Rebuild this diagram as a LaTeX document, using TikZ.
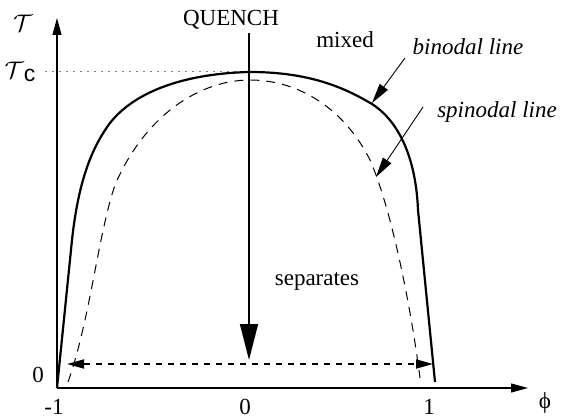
\documentclass[tikz,border=0pt]{standalone}
\usepackage{fontspec}
\setmainfont{Liberation Serif}
\setsansfont{Liberation Sans}
\usetikzlibrary{arrows.meta}

\begin{document}
\begin{tikzpicture}[
    x=0.5pt, y=-0.5pt,
    every node/.style={font=\fontsize{11.5}{13}\selectfont, inner sep=0pt},
    axis/.style={line width=0.55pt, -{Triangle[length=8.5pt,width=4.5pt]}},
    binodal/.style={line width=1.1pt},
    spinodal/.style={line width=0.5pt, dash pattern=on 4.5pt off 3.5pt},
    quench/.style={line width=0.8pt, -{Triangle[length=18pt,width=9pt]}},
    sep/.style={line width=0.9pt, dash pattern=on 3pt off 3pt,
                {Triangle[length=8.5pt,width=4.5pt]}-{Triangle[length=8.5pt,width=4.5pt]}},
    lbl/.style={line width=0.45pt, -{Triangle[length=10pt,width=5pt]}},
]
\useasboundingbox (0,0) rectangle (561,417);

% axes
\coordinate (O) at (57,388);
\coordinate (xtip) at (528,388);
\coordinate (ytip) at (57,18);
\draw[axis] (O) -- (xtip);
\draw[axis] (O) -- (ytip);

\node (Tlab) at (23,23) {$\mathcal{T}$};
\node (Tc) at (20,72) {$\mathcal{T}$\raisebox{-0.25ex}{\sffamily c}};
\node (zeroT) at (38,375) {0};
\node (m1) at (54,407) {-1};
\node (z) at (245,407) {0};
\node (p1) at (429,407) {1};
\node (phi) at (545,403) {ϕ};

% critical temperature
\coordinate (dotstart) at (45,72);
\coordinate (top) at (250,72);
\draw[line width=0.5pt, dash pattern=on 1pt off 2.5pt, gray] (dotstart) -- (top);

% binodal and spinodal lines
\draw[binodal] (O) -- (72,240)
  .. controls (78,185) and (90,150) .. (110,123)
  .. controls (140,85) and (200,73) .. (top)
  .. controls (310,72) and (345,88) .. (372,104)
  .. controls (400,122) and (416,160) .. (418,210)
  -- (435,382);
\draw[spinodal] (68,382)
  .. controls (90,320) and (98,235) .. (115,185)
  .. controls (145,115) and (200,80) .. (250,80)
  .. controls (300,80) and (345,110) .. (370,160)
  .. controls (390,205) and (410,300) .. (420,378);

% quench
\node (quench) at (231,20) {QUENCH};
\coordinate (qstart) at (249,33);
\coordinate (qend) at (249,360);
\draw[quench] (qstart) -- (qend);

\coordinate (sepL) at (67,364);
\coordinate (sepR) at (433,364);
\draw[sep] (sepL) -- (sepR);

\node (mixed) at (345,40) {mixed};
\node (separ) at (317,281) {separates};

% labels of the lines
\node (binlab) at (468,47) {\itshape binodal line};
\node (spilab) at (497,112) {\itshape spinodal line};
\coordinate (binA) at (405,58);
\coordinate (binB) at (372,103);
\coordinate (spiA) at (423,107);
\coordinate (spiB) at (376,177);
\draw[lbl] (binA) -- (binB);
\draw[lbl] (spiA) -- (spiB);
\end{tikzpicture}
\end{document}
